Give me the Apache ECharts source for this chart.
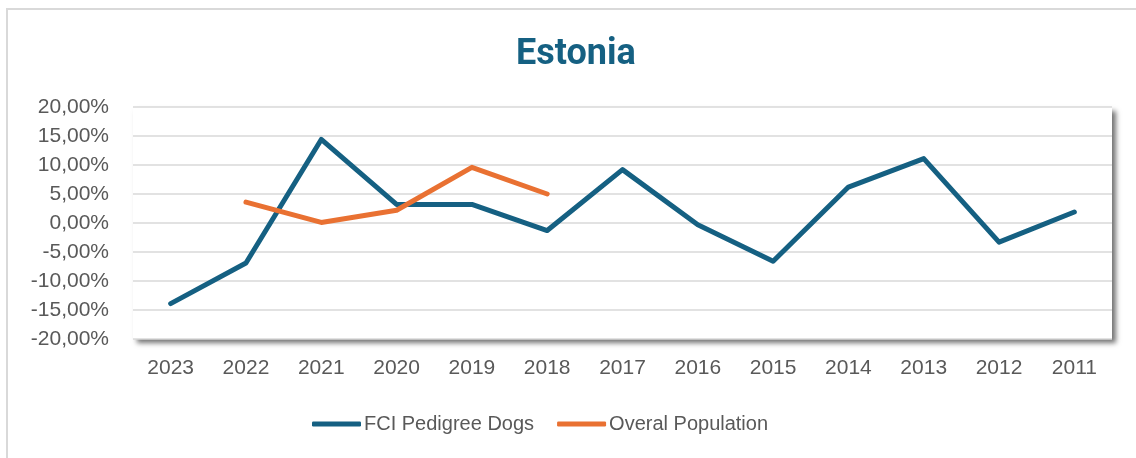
<!DOCTYPE html>
<html>
<head>
<meta charset="utf-8">
<script src="https://cdn.jsdelivr.net/npm/echarts@6/dist/echarts.min.js"></script>
<style>
html,body{margin:0;padding:0;background:#fff;}
#c{width:1136px;height:458px;}
</style>
</head>
<body>
<div id="c"></div>
<script>
const categories = ['2023','2022','2021','2020','2019','2018','2017','2016','2015','2014','2013','2012','2011'];
const fciPedigree = [-13.9, -6.9, 14.4, 3.2, 3.2, -1.3, 9.2, -0.3, -6.6, 6.2, 11.1, -3.3, 1.9];
const overalPopulation = [null, 3.6, 0.1, 2.2, 9.6, 5.0, null, null, null, null, null, null, null];
const seriesNames = ['FCI Pedigree Dogs', 'Overal Population'];

const chart = echarts.init(document.getElementById('c'), null, {renderer: 'canvas'});
const fmt = v => v.toFixed(2).replace('.', ',') + '%';
chart.setOption({
  backgroundColor: '#fff',
  animation: false,
  graphic: [{
    type: 'rect', left: 6, top: 8, z: -10,
    shape: {width: 1200, height: 500},
    style: {fill: '#fff', stroke: '#d9d9d9', lineWidth: 2}
  }],
  title: {
    text: 'Estonia', left: 511, top: 32,
    textStyle: {fontFamily: 'Roboto', fontWeight: 'bold', fontSize: 36, color: '#156082'}
  },
  legend: {
    top: 409, left: 307, itemGap: 23, itemWidth: 49, itemHeight: 5,
    icon: 'roundRect',
    textStyle: {fontFamily: 'Liberation Sans', fontSize: 20, color: '#595959', padding: [0,0,0,-2]},
    data: seriesNames
  },
  grid: {
    left: 133, right: 24, top: 107, height: 232,
    show: true, backgroundColor: '#fff', borderWidth: 0,
    shadowBlur: 5, shadowColor: 'rgba(0,0,0,0.55)', shadowOffsetX: 4, shadowOffsetY: 4
  },
  xAxis: {
    type: 'category', data: categories, boundaryGap: true,
    axisLine: {show: false}, axisTick: {show: false},
    axisLabel: {fontFamily: 'Liberation Sans', fontSize: 21, color: '#595959', margin: 19}
  },
  yAxis: {
    type: 'value', min: -20, max: 20, interval: 5,
    axisLine: {show: false}, axisTick: {show: false},
    splitLine: {lineStyle: {color: '#d9d9d9', width: 1.5}},
    axisLabel: {fontFamily: 'Liberation Sans', fontSize: 21, color: '#595959', margin: 24, formatter: fmt}
  },
  series: [
    {name: seriesNames[0], type: 'line', data: fciPedigree, symbol: 'none',
     lineStyle: {color: '#156082', width: 5, cap: 'round', join: 'round'}, itemStyle: {color: '#156082'}},
    {name: seriesNames[1], type: 'line', data: overalPopulation, symbol: 'none', connectNulls: false,
     lineStyle: {color: '#e97132', width: 5, cap: 'round', join: 'round'}, itemStyle: {color: '#e97132'}}
  ]
});
</script>
</body>
</html>
